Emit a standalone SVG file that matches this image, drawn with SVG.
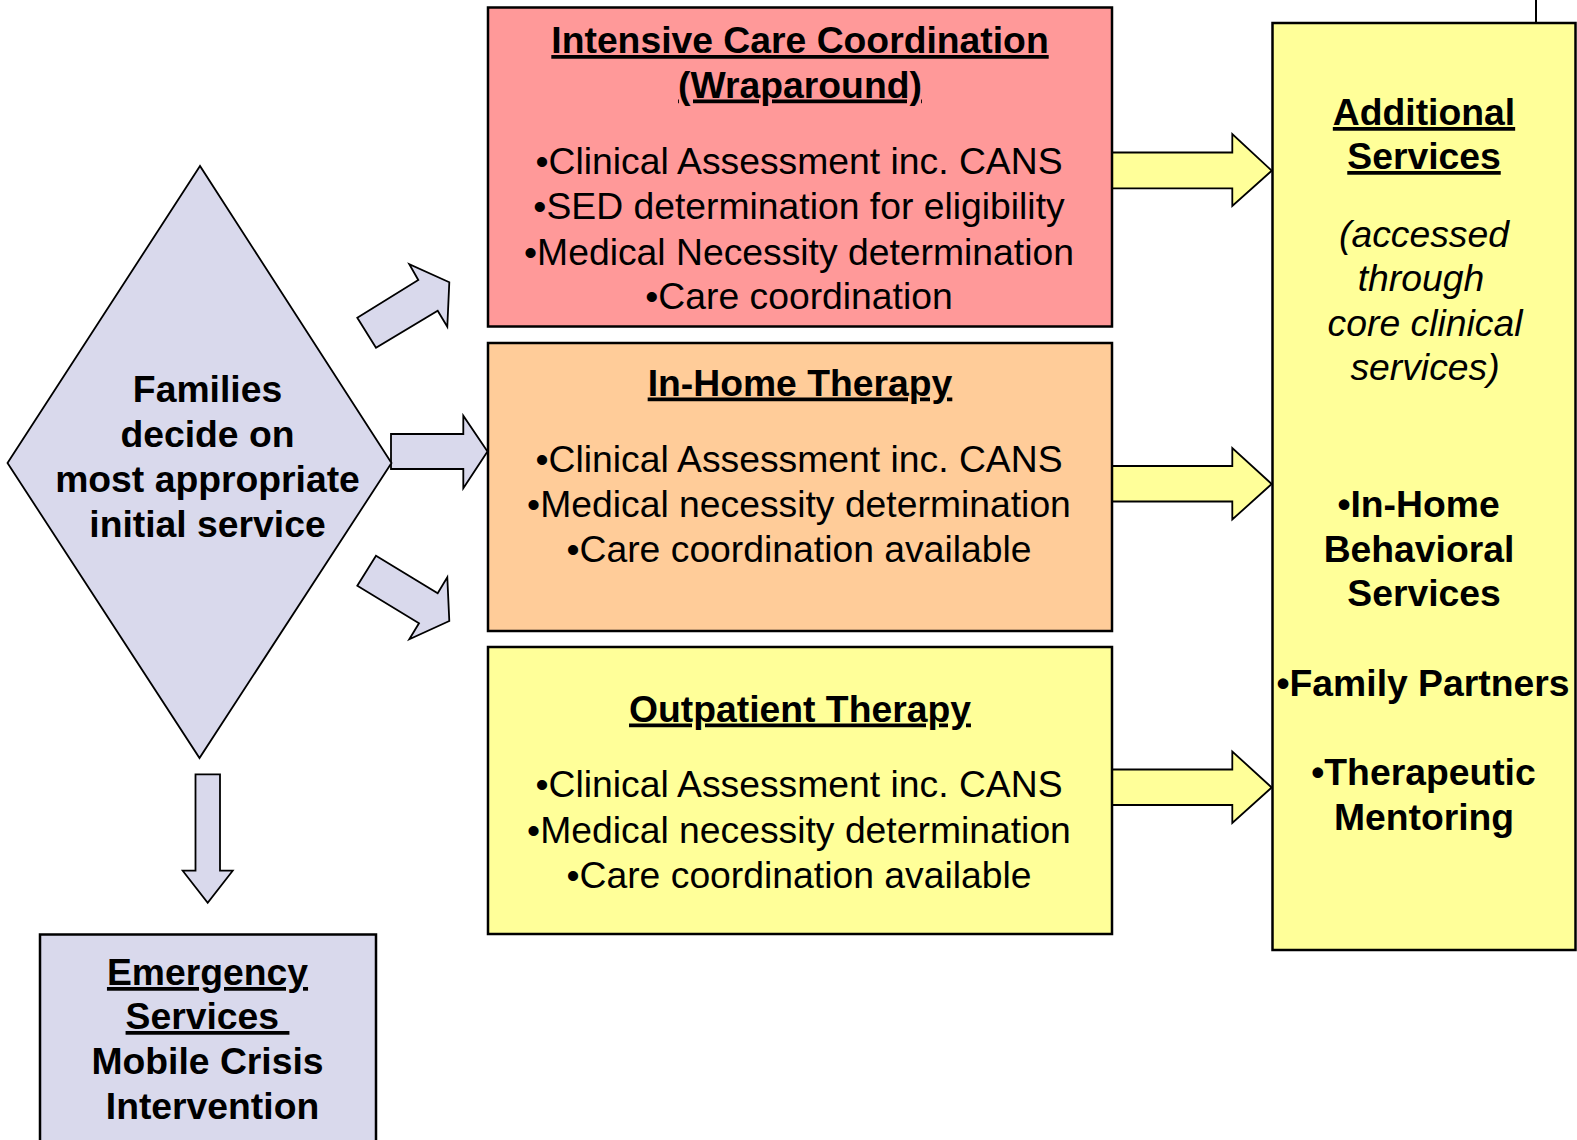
<svg xmlns="http://www.w3.org/2000/svg" width="1577" height="1140" viewBox="0 0 1577 1140">
<style>
.box{stroke:#000;stroke-width:2.5}
.lav{fill:#D9D9EC}
.red{fill:#FF9999}
.org{fill:#FFCC99}
.yel{fill:#FFFF99}
.arr{stroke:#000;stroke-width:1.8;stroke-linejoin:miter}
text{font-family:"Liberation Sans",Arial,sans-serif;font-size:37.3px;fill:#000;text-anchor:middle}
.b{font-weight:bold}
.u{text-decoration:underline}
.i{font-style:italic}
</style>
<rect width="1577" height="1140" fill="#fff"/>

<g id="connectors">
<polygon class="arr lav" points="357.3,317.7 418.3,280 409.3,264.3 449.3,282.3 447.3,326.7 437.7,310.7 376,347.7"/>
<polygon class="arr lav" points="391,434 463.3,434 463.3,415.7 487.5,451.5 463.3,488.3 463.3,469 391,469"/>
<polygon class="arr lav" points="376,555.7 437.7,593.3 447.3,577.3 449.3,621 409.3,639.3 419,623.3 357.3,585.7"/>
<polygon class="arr lav" points="195.5,774.3 220,774.3 220,870.7 232.7,870.7 207.7,902.7 182.7,870.7 195.5,870.7"/>
<polygon class="arr yel" points="1112,152.5 1232.3,152.5 1232.3,134 1271.7,170.7 1232.3,206 1232.3,188.3 1112,188.3"/>
<polygon class="arr yel" points="1112,466 1232.3,466 1232.3,448 1271.7,484 1232.3,519.5 1232.3,501.5 1112,501.5"/>
<polygon class="arr yel" points="1112,769.5 1232.3,769.5 1232.3,751.5 1271.7,787.5 1232.3,823 1232.3,805 1112,805"/>
<line x1="1536" y1="0" x2="1536" y2="23" stroke="#000" stroke-width="2"/>
</g>

<g id="decision">
<polygon class="lav" stroke="#000" stroke-width="1.8" points="200,166 7.5,463 199.5,758 391.5,463"/>
<text class="b" x="207.5" y="401.5">Families</text>
<text class="b" x="207.5" y="446.5">decide on</text>
<text class="b" x="207.5" y="491.5">most appropriate</text>
<text class="b" x="207.5" y="536.5">initial service</text>
</g>

<g id="icc">
<rect class="box red" x="488" y="7.5" width="624" height="319"/>
<text class="b u" x="800" y="53">Intensive Care Coordination</text>
<text class="b u" x="800" y="97.5">(Wraparound)</text>
<text x="799" y="174">•Clinical Assessment inc. CANS</text>
<text x="799" y="219">•SED determination for eligibility</text>
<text x="799" y="264.5">•Medical Necessity determination</text>
<text x="799" y="309">•Care coordination</text>
</g>

<g id="inhome">
<rect class="box org" x="488" y="343" width="624" height="288"/>
<text class="b u" x="800" y="395.5">In-Home Therapy</text>
<text x="799" y="471.5">•Clinical Assessment inc. CANS</text>
<text x="799" y="517">•Medical necessity determination</text>
<text x="799" y="562">•Care coordination available</text>
</g>

<g id="outpatient">
<rect class="box yel" x="488" y="647" width="624" height="287"/>
<text class="b u" x="800" y="721.5">Outpatient Therapy</text>
<text x="799" y="797">•Clinical Assessment inc. CANS</text>
<text x="799" y="842.5">•Medical necessity determination</text>
<text x="799" y="887.5">•Care coordination available</text>
</g>

<g id="additional">
<rect class="box yel" x="1272.5" y="23" width="303" height="927"/>
<text class="b u" x="1424" y="125">Additional</text>
<text class="b u" x="1424" y="169">Services</text>
<text class="i" x="1424" y="247">(accessed</text>
<text class="i" x="1421" y="291">through</text>
<text class="i" x="1425" y="335.5">core clinical</text>
<text class="i" x="1425" y="380">services)</text>
<text class="b" x="1418.5" y="516.5">•In-Home</text>
<text class="b" x="1419" y="561.5">Behavioral</text>
<text class="b" x="1424" y="606">Services</text>
<text class="b" x="1423" y="695.5">•Family Partners</text>
<text class="b" x="1423.5" y="785">•Therapeutic</text>
<text class="b" x="1424" y="830">Mentoring</text>
</g>

<g id="emergency">
<rect class="box lav" x="40" y="934.5" width="336" height="220"/>
<text class="b u" x="207.5" y="985">Emergency</text>
<text class="b u" x="207.5" y="1029" xml:space="preserve">Services </text>
<text class="b" x="207.5" y="1074">Mobile Crisis</text>
<text class="b" x="212.5" y="1118.5">Intervention</text>
</g>
</svg>
